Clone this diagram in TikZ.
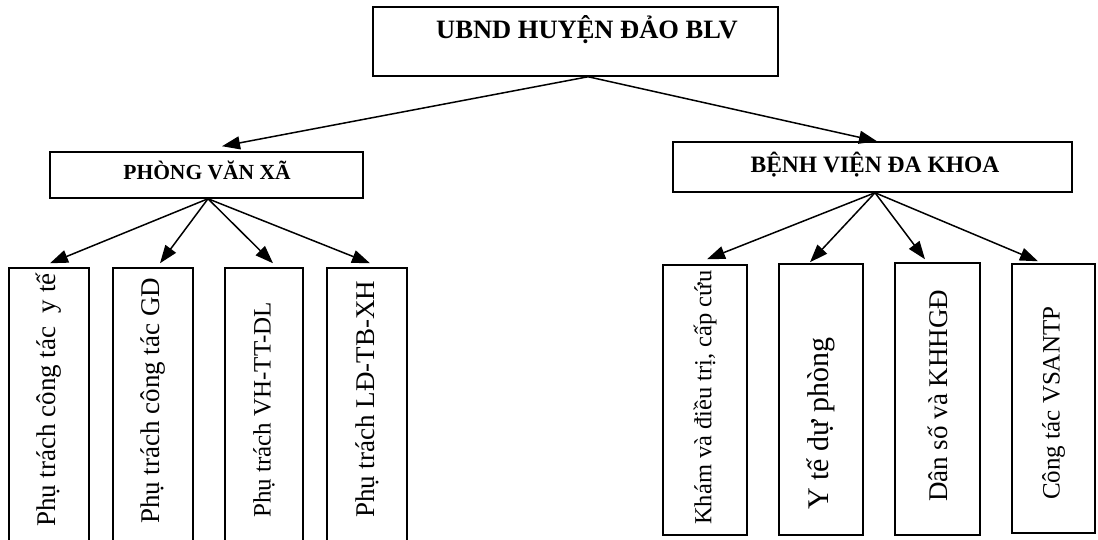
\documentclass[tikz,border=0pt]{standalone}
\usepackage{fontspec}
\setmainfont{Liberation Serif}
\usetikzlibrary{arrows.meta,calc}
\begin{document}
\begin{tikzpicture}[x=1pt,y=-1pt,
  box/.style={draw,line width=1.5pt,inner sep=0pt,rectangle},
  arr/.style={line width=1.5pt,-{Triangle[length=18pt,width=13pt]}},
  vtext/.style={rotate=90,anchor=west,inner sep=0pt,font=\fontsize{#1}{#1}\selectfont},
  htext/.style={anchor=base,inner sep=0pt,font=\bfseries\fontsize{#1}{#1}\selectfont},
]
\useasboundingbox (0,0) rectangle (1098,540);
% main boxes
\node[box,minimum width=405pt,minimum height=69pt] (ubnd) at (575.5,41.5) {};
\node[htext=26.5] (ubndt) at (587,39) {UBND HUYỆN ĐẢO BLV};
\node[box,minimum width=313pt,minimum height=46pt] (pvx) at (206.5,175) {};
\node[htext=21.5] (pvxt) at (207,180) {PHÒNG VĂN XÃ};
\node[box,minimum width=399pt,minimum height=50pt] (bv) at (872.5,167) {};
\node[htext=23.5] (bvt) at (875,173) {BỆNH VIỆN ĐA KHOA};
% left children
\node[box,minimum width=80pt,minimum height=280pt] (l1) at (49,408) {};
\node[box,minimum width=80pt,minimum height=280pt] (l2) at (153,408) {};
\node[box,minimum width=78pt,minimum height=280pt] (l3) at (264,408) {};
\node[box,minimum width=80pt,minimum height=280pt] (l4) at (367,408) {};
\node[vtext=27] (l1t) at (49,527) {Phụ trách công tác\ \ y tế};
\node[vtext=27] (l2t) at (153,524) {Phụ trách công tác GD};
\node[vtext=25] (l3t) at (264,518) {Phụ trách VH-TT-DL};
\node[vtext=27] (l4t) at (367,518) {Phụ trách LĐ-TB-XH};
% right children
\node[box,minimum width=84pt,minimum height=270pt] (r1) at (705,400) {};
\node[box,minimum width=84pt,minimum height=271pt] (r2) at (821,399.5) {};
\node[box,minimum width=85pt,minimum height=272pt] (r3) at (937.5,399) {};
\node[box,minimum width=83pt,minimum height=269pt] (r4) at (1053.5,398.5) {};
\node[vtext=24.5] (r1t) at (705,525) {Khám và điều trị, cấp cứu};
\node[vtext=30] (r2t) at (821,510) {Y tế dự phòng};
\node[vtext=27] (r3t) at (937.5,502) {Dân số và KHHGĐ};
\node[vtext=25] (r4t) at (1053.5,500) {Công tác VSANTP};
% connectors
\coordinate (apex) at ($(ubnd.south west)!0.531!(ubnd.south east)$);
\draw[arr] (apex) -- ([xshift=15.5pt,yshift=5pt]pvx.north);
\draw[arr] (apex) -- ([xshift=4.5pt]bv.north);
\coordinate (ps) at ([xshift=1.5pt]pvx.south);
\draw[arr] (ps) -- ([xshift=1pt,yshift=4pt]l1.north);
\draw[arr] (ps) -- ([xshift=7pt,yshift=4pt]l2.north);
\draw[arr] (ps) -- ([xshift=9pt,yshift=4pt]l3.north);
\draw[arr] (ps) -- ([xshift=3pt,yshift=4pt]l4.north);
\coordinate (bs) at ([xshift=2.5pt]bv.south);
\draw[arr] (bs) -- ([xshift=2pt,yshift=5pt]r1.north);
\draw[arr] (bs) -- ([xshift=-11pt,yshift=1pt]r2.north);
\draw[arr] (bs) -- ([xshift=-12.5pt,yshift=3pt]r3.north);
\draw[arr] (bs) -- ([xshift=-15.5pt,yshift=2pt]r4.north);
\end{tikzpicture}
\end{document}
